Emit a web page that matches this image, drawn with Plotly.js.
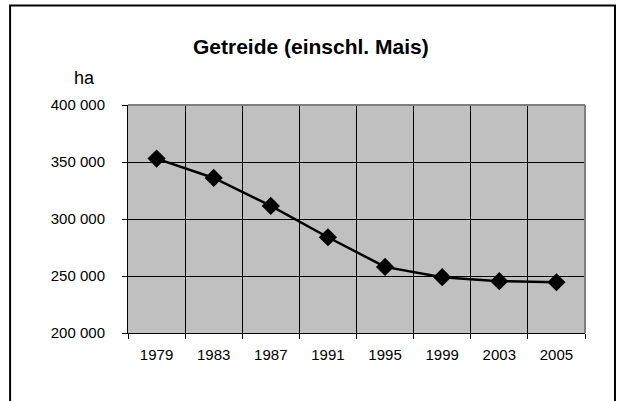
<!DOCTYPE html>
<html>
<head>
<meta charset="utf-8">
<script src="https://cdn.plot.ly/plotly-3.0.1.min.js"></script>
<style>
html,body{margin:0;padding:0;background:#fff;}
#chart{width:618px;height:401px;}
</style>
</head>
<body>
<div id="chart"></div>
<script>
const years = ["1979", "1983", "1987", "1991", "1995", "1999", "2003", "2005"];
const hectares = [353000, 336000, 311500, 284000, 258000, 249000, 245500, 244500];
const yTicks = [200000, 250000, 300000, 350000, 400000];
const yTickLabels = ["200 000", "250 000", "300 000", "350 000", "400 000"];
const chartTitle = "Getreide (einschl. Mais)";
const unitLabel = "ha";

const trace = {
  x: years,
  y: hectares,
  type: "scatter",
  mode: "lines+markers",
  line: {color: "#000000", width: 2.5},
  marker: {symbol: "diamond", size: 14, color: "#000000"},
  hoverinfo: "x+y"
};

const layout = {
  width: 618,
  height: 401,
  margin: {l: 128, r: 33, t: 105, b: 68},
  paper_bgcolor: "#ffffff",
  plot_bgcolor: "#c0c0c0",
  showlegend: false,
  font: {family: "Liberation Sans, Arial, sans-serif", size: 15, color: "#000000"},
  title: {
    text: "<b>" + chartTitle + "</b>",
    font: {family: "Liberation Sans, Arial, sans-serif", size: 21, color: "#000000"},
    x: 0.503, xanchor: "center",
    y: 0.883, yanchor: "middle"
  },
  xaxis: {
    type: "category",
    range: [-0.5, 7.5],
    tickson: "boundaries",
    ticks: "outside",
    ticklen: 5,
    tickcolor: "#000000",
    tickwidth: 1,
    showline: true,
    linecolor: "#000000",
    linewidth: 1,
    showgrid: true,
    gridcolor: "#000000",
    gridwidth: 1,
    tickfont: {size: 15},
    ticklabelstandoff: 8,
    fixedrange: true
  },
  yaxis: {
    range: [200000, 400000],
    tickvals: yTicks,
    ticktext: yTickLabels,
    ticks: "outside",
    ticklen: 5,
    tickcolor: "#000000",
    showline: true,
    linecolor: "#000000",
    linewidth: 1,
    showgrid: true,
    gridcolor: "#000000",
    gridwidth: 1,
    zeroline: false,
    tickfont: {size: 15},
    ticklabelstandoff: 14,
    fixedrange: true
  },
  shapes: [
    {type: "line", xref: "paper", yref: "paper", x0: 0, x1: 1, y0: 1, y1: 1,
     line: {color: "#808080", width: 2}},
    {type: "line", xref: "paper", yref: "paper", x0: 1, x1: 1, y0: 0, y1: 1,
     line: {color: "#808080", width: 2}},
    {type: "rect", xref: "paper", yref: "paper",
     x0: -0.258, x1: 1.0656, y0: -0.4, y1: 1.436,
     line: {color: "#000000", width: 2}, fillcolor: "rgba(0,0,0,0)", layer: "below"}
  ],
  annotations: [
    {text: unitLabel, xref: "paper", yref: "paper", x: -0.096, y: 1.118,
     xanchor: "center", yanchor: "middle", showarrow: false,
     font: {size: 18, color: "#000000"}}
  ]
};

Plotly.newPlot("chart", [trace], layout, {displayModeBar: false, staticPlot: true});
</script>
</body>
</html>
